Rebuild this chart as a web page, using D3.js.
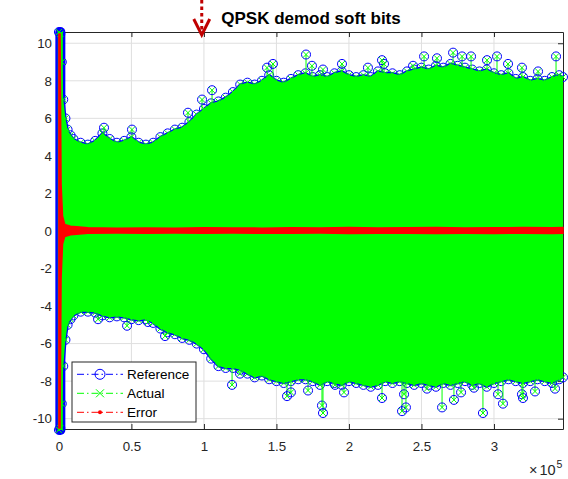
<!DOCTYPE html>
<html>
<head>
<meta charset="utf-8">
<script src="https://cdn.jsdelivr.net/npm/d3@7"></script>
<style>
  body { margin: 0; background: #fff; }
  svg { display: block; font-family: "Liberation Sans", Arial, Helvetica, sans-serif; }
</style>
</head>
<body>
<svg id="chart" width="568" height="479"></svg>
<script>
const width = 568;
const height = 479;

// envelope of the soft bits (sample index -> max / min value)
const envX = [0, 1000, 2000, 3000, 4500, 6000, 8000, 10000, 15000, 20000, 25000, 30000, 35000, 40000,
    45000, 50000, 55000, 60000, 65000, 70000, 75000, 80000, 85000, 90000, 95000, 100000, 105000,
    110000, 115000, 120000, 125000, 130000, 135000, 140000, 145000, 150000, 155000, 160000, 165000,
    170000, 175000, 180000, 185000, 190000, 195000, 200000, 205000, 210000, 215000, 220000, 225000,
    230000, 235000, 240000, 245000, 250000, 255000, 260000, 265000, 270000, 275000, 280000, 285000,
    290000, 295000, 300000, 305000, 310000, 315000, 320000, 325000, 330000, 335000, 340000, 345000, 347600];
const envTop = [10.6, 10.5, 9.0, 7.0, 6.0, 5.4, 5.1, 4.9, 4.7, 4.6, 4.8, 5.2, 4.9, 4.7,
    4.8, 5.0, 4.7, 4.6, 4.7, 5.0, 5.2, 5.4, 5.5, 5.8, 6.2, 6.5, 6.8,
    6.9, 7.1, 7.4, 7.8, 7.9, 7.8, 8.0, 8.3, 8.0, 7.9, 8.1, 8.3,
    8.4, 8.2, 8.3, 8.2, 8.4, 8.5, 8.3, 8.2, 8.3, 8.2, 8.5, 8.4,
    8.4, 8.3, 8.5, 8.6, 8.7, 8.6, 8.8, 8.7, 8.9, 8.8, 8.7, 8.6,
    8.5, 8.6, 8.4, 8.3, 8.4, 8.1, 8.2, 8.0, 8.1, 8.0, 8.2, 8.3, 8.2];
const envBot = [-10.6, -10.5, -9.2, -7.2, -5.8, -5.0, -4.7, -4.5, -4.3, -4.3, -4.35, -4.5, -4.6, -4.55,
    -4.6, -4.7, -4.75, -4.7, -4.9, -5.2, -5.4, -5.5, -5.7, -5.8, -6.0, -6.3, -6.8,
    -7.2, -7.3, -7.3, -7.4, -7.6, -7.8, -7.7, -7.9, -8.0, -8.1, -8.0, -7.9,
    -7.9, -8.0, -8.2, -8.0, -8.1, -8.2, -8.0, -8.1, -8.2, -8.3, -8.2, -8.0,
    -8.1, -8.0, -8.1, -8.2, -8.1, -8.2, -8.3, -8.1, -8.2, -8.1, -8.0, -8.2,
    -8.1, -8.3, -8.1, -8.0, -7.9, -8.0, -8.1, -8.0, -7.9, -8.0, -8.1, -7.9, -7.8];

// error band (Actual - Reference)
const errX = [0, 800, 1500, 2500, 4000, 8000, 20000, 40000, 60000, 80000, 100000, 120000, 140000,
    160000, 180000, 200000, 220000, 240000, 260000, 280000, 300000, 320000, 340000, 347600];
const errTop = [10.5, 10.5, 2.5, 0.8, 0.35, 0.25, 0.17, 0.15, 0.16, 0.15, 0.17, 0.16, 0.15,
    0.17, 0.16, 0.18, 0.16, 0.17, 0.18, 0.16, 0.17, 0.18, 0.17, 0.18];
const errBot = [-10.5, -10.5, -2.5, -0.7, -0.3, -0.2, -0.12, -0.11, -0.12, -0.11, -0.12, -0.11, -0.12,
    -0.12, -0.11, -0.13, -0.12, -0.12, -0.13, -0.12, -0.13, -0.12, -0.13, -0.12];

// isolated peaks sticking out of the envelope
const peakTopX = [31100, 50400, 89000, 98700, 105600, 143500, 147600, 170400, 174500, 182100, 195200,
    213100, 222800, 224200, 244200, 251800, 260700, 271800, 278000, 284200, 295200, 302100, 309700,
    319300, 330400, 342800];
const peakTopY = [5.5, 5.4, 6.3, 7.0, 7.5, 8.7, 8.9, 9.4, 8.8, 8.6, 8.9,
    8.7, 9.1, 8.9, 8.8, 9.3, 9.2, 9.5, 9.3, 9.3, 9.1, 9.3, 8.9,
    8.7, 8.5, 9.3];
const peakBotX = [27000, 47000, 61400, 73200, 119400, 124900, 157300, 160000, 171800, 181400, 182100,
    190400, 196600, 222800, 236600, 238000, 239300, 253800, 264200, 272400, 277300, 286200, 292400,
    302800, 306200, 319300, 320000, 328300, 342100];
const peakBotY = [-4.7, -5.05, -4.85, -5.6, -8.2, -7.6, -8.8, -8.6, -8.5, -9.3, -9.7,
    -8.2, -8.6, -8.9, -9.6, -8.7, -9.4, -8.4, -9.4, -9.0, -8.6, -8.35, -9.7,
    -8.7, -9.2, -8.7, -8.9, -8.55, -8.4];

const xTicks = [0, 50000, 100000, 150000, 200000, 250000, 300000];
const yTicks = [-10, -8, -6, -4, -2, 0, 2, 4, 6, 8, 10];
const seriesNames = ['Reference', 'Actual', 'Error'];
const seriesColors = ['#0000ff', '#00ff00', '#ff0000'];
const arrowAt = 98500;

const box = { left: 56, right: 563, top: 32, bottom: 429 };
const x = d3.scaleLinear().domain([-2000, 347600]).range([box.left, box.right]);
const y = d3.scaleLinear().domain([-10.55, 10.6]).range([box.bottom, box.top]);

const svg = d3.select('#chart');
svg.append('rect').attr('width', width).attr('height', height).attr('fill', '#fff');

// grid
const grid = svg.append('g').attr('stroke', '#dfdfdf').attr('stroke-width', 1);
grid.selectAll('.gx').data(xTicks).enter().append('line')
    .attr('x1', d => x(d)).attr('x2', d => x(d))
    .attr('y1', box.top).attr('y2', box.bottom);
grid.selectAll('.gy').data(yTicks).enter().append('line')
    .attr('y1', d => y(d)).attr('y2', d => y(d))
    .attr('x1', box.left).attr('x2', box.right);

// axes (ticks point inward, box on)
const styleAxis = g => {
    g.selectAll('path, line').attr('stroke', '#262626');
    g.selectAll('text').attr('fill', '#262626').style('font-size', '13.3px')
        .style('font-family', '"Liberation Sans", Arial, sans-serif');
};
svg.append('g').attr('transform', `translate(0,${box.bottom})`)
    .call(d3.axisBottom(x).tickValues(xTicks).tickSizeInner(-5).tickSizeOuter(0).tickPadding(13)
        .tickFormat(d => String(d / 1e5)))
    .call(styleAxis);
svg.append('g').attr('transform', `translate(0,${box.top})`)
    .call(d3.axisTop(x).tickValues(xTicks).tickSizeInner(-5).tickSizeOuter(0).tickFormat(''))
    .call(styleAxis);
svg.append('g').attr('transform', `translate(${box.left},0)`)
    .call(d3.axisLeft(y).tickValues(yTicks).tickSizeInner(-5).tickSizeOuter(0).tickPadding(4)
        .tickFormat(d => String(d)))
    .call(styleAxis);
svg.append('g').attr('transform', `translate(${box.right},0)`)
    .call(d3.axisRight(y).tickValues(yTicks).tickSizeInner(-5).tickSizeOuter(0).tickFormat(''))
    .call(styleAxis);

// data
const env = envX.map((d, i) => ({ x: d, top: envTop[i], bot: envBot[i] }));
const topAt = d3.scaleLinear().domain(envX).range(envTop);
const botAt = d3.scaleLinear().domain(envX).range(envBot);
const data = svg.append('g');

const ring = (g, cx, cy) => g.append('circle').attr('cx', cx).attr('cy', cy).attr('r', 4.5)
    .attr('fill', 'none').attr('stroke', seriesColors[0]).attr('stroke-width', 1);
const cross = (g, cx, cy) => g.append('path')
    .attr('d', `M${cx - 3},${cy - 3}L${cx + 3},${cy + 3}M${cx - 3},${cy + 3}L${cx + 3},${cy - 3}`)
    .attr('stroke', seriesColors[1]).attr('stroke-width', 1);

// Reference: start-up transient, edge line and edge rings (drawn under Actual)
data.append('line')
    .attr('x1', x(envX[1])).attr('x2', x(envX[1]))
    .attr('y1', y(envTop[0])).attr('y2', y(envBot[0]))
    .attr('stroke', seriesColors[0]).attr('stroke-width', 10).attr('stroke-linecap', 'round');

const lineTop = d3.line().x(d => x(d.x)).y(d => y(d.top));
const lineBot = d3.line().x(d => x(d.x)).y(d => y(d.bot));
data.append('path').attr('d', lineTop(env)).attr('fill', 'none')
    .attr('stroke', seriesColors[0]).attr('stroke-width', 2.5);
data.append('path').attr('d', lineBot(env)).attr('fill', 'none')
    .attr('stroke', seriesColors[0]).attr('stroke-width', 2.5);

const edges = data.append('g');
env.forEach(d => {
    ring(edges, x(d.x), y(d.top));
    ring(edges, x(d.x), y(d.bot));
});

// stems of isolated peaks
const peaks = data.append('g');
peakTopX.forEach((px, i) => {
    peaks.append('line').attr('x1', x(px)).attr('x2', x(px))
        .attr('y1', y(topAt(px))).attr('y2', y(peakTopY[i]))
        .attr('stroke', seriesColors[1]).attr('stroke-width', 1);
    ring(peaks, x(px), y(peakTopY[i]));
});
peakBotX.forEach((px, i) => {
    peaks.append('line').attr('x1', x(px)).attr('x2', x(px))
        .attr('y1', y(botAt(px))).attr('y2', y(peakBotY[i]))
        .attr('stroke', seriesColors[1]).attr('stroke-width', 1);
    ring(peaks, x(px), y(peakBotY[i]));
});

// Actual
data.append('path')
    .attr('d', d3.area().x(d => x(d.x)).y0(d => y(d.bot)).y1(d => y(d.top))(env))
    .attr('fill', seriesColors[1]);
data.append('line')
    .attr('x1', x(envX[1])).attr('x2', x(envX[1]))
    .attr('y1', y(envTop[0])).attr('y2', y(envBot[0]))
    .attr('stroke', seriesColors[1]).attr('stroke-width', 5);
env.forEach(d => {
    cross(data, x(d.x), y(d.top));
    cross(data, x(d.x), y(d.bot));
});
peakTopX.forEach((px, i) => cross(data, x(px), y(peakTopY[i])));
peakBotX.forEach((px, i) => cross(data, x(px), y(peakBotY[i])));

// Error
const err = errX.map((d, i) => ({ x: d, top: errTop[i], bot: errBot[i] }));
data.append('path')
    .attr('d', d3.area().x(d => x(d.x)).y0(d => y(d.bot)).y1(d => y(d.top))(err))
    .attr('fill', seriesColors[2]).attr('stroke', seriesColors[2]).attr('stroke-width', 1.5);

// legend
const lg = svg.append('g').attr('transform', 'translate(72,362)');
lg.append('rect').attr('width', 124).attr('height', 60)
    .attr('fill', '#fff').attr('stroke', '#262626').attr('stroke-width', 1);
seriesNames.forEach((name, i) => {
    const cy = 12.3 + i * 19;
    lg.append('line').attr('x1', 5).attr('x2', 51).attr('y1', cy).attr('y2', cy)
        .attr('stroke', seriesColors[i]).attr('stroke-width', 1).attr('stroke-dasharray', '7,3,1.5,3');
    if (i === 0) {
        lg.append('circle').attr('cx', 28).attr('cy', cy).attr('r', 5)
            .attr('fill', 'none').attr('stroke', seriesColors[0]);
    } else if (i === 1) {
        lg.append('path').attr('d', `M24,${cy - 4}L32,${cy + 4}M24,${cy + 4}L32,${cy - 4}`)
            .attr('stroke', seriesColors[1]);
    } else {
        lg.append('circle').attr('cx', 28).attr('cy', cy).attr('r', 2).attr('fill', seriesColors[2]);
    }
    lg.append('text').attr('x', 55).attr('y', cy + 5).text(name)
        .style('font-size', '13.5px').attr('fill', '#000');
});

// title
svg.append('text').attr('x', 311).attr('y', 24).attr('text-anchor', 'middle')
    .style('font-size', '17px').style('font-weight', 'bold').attr('fill', '#000')
    .text('QPSK demod soft bits');

// exponent label
const ex = svg.append('text').attr('x', 529).attr('y', 475).attr('fill', '#262626').style('font-size', '14.5px');
ex.append('tspan').text('×');
ex.append('tspan').attr('dx', 2).text('10');
ex.append('tspan').attr('dy', -7).attr('dx', 1).style('font-size', '10.5px').text('5');

// arrow annotation
const ax = x(arrowAt);
svg.append('line').attr('x1', ax).attr('x2', ax).attr('y1', 0).attr('y2', 30)
    .attr('stroke', '#c00000').attr('stroke-width', 3).attr('stroke-dasharray', '3.5,3');
svg.append('path').attr('d', `M${ax - 8},19L${ax},35L${ax + 8},19`)
    .attr('fill', 'none').attr('stroke', '#c00000').attr('stroke-width', 3);
</script>
</body>
</html>
